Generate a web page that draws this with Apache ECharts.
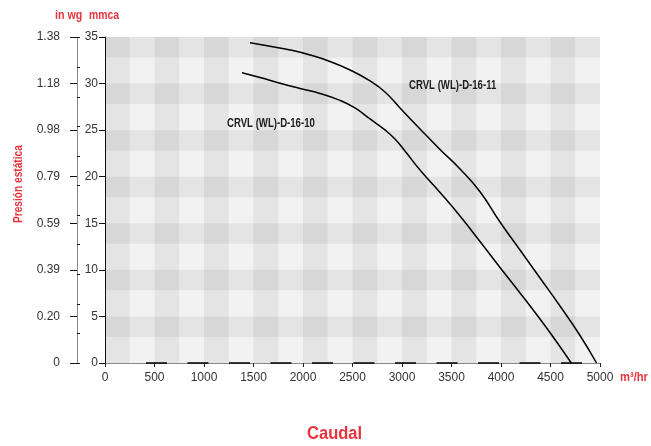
<!DOCTYPE html>
<html>
<head>
<meta charset="utf-8">
<script src="https://cdn.jsdelivr.net/npm/echarts@6/dist/echarts.min.js"></script>
<style>html,body{margin:0;padding:0;background:#fff}#c{width:651px;height:446px}</style>
</head>
<body>
<div id="c"></div>
<script>
// ---- data ----
var xTicks = [0, 500, 1000, 1500, 2000, 2500, 3000, 3500, 4000, 4500, 5000];
var mmcaTicks = [0, 5, 10, 15, 20, 25, 30, 35];
var inwgLabels = ['0', '0.20', '0.39', '0.59', '0.79', '0.98', '1.18', '1.38'];
var rowBandStarts = [35, 30, 25, 20, 15, 10, 5];
var rowBandDepth = 2.2;
var zeroDashStart = 414;
var nameD1611 = 'CRVL (WL)-D-16-11';
var nameD1610 = 'CRVL (WL)-D-16-10';
var curveD1611 = [[1465,34.39],[1667,34.0],[1869,33.61],[2071,33.07],[2273,32.37],[2475,31.46],[2677,30.28],[2828,29.1],[2980,27.38],[3182,25.13],[3384,22.93],[3586,20.83],[3788,18.39],[3990,15.14],[4192,12.13],[4394,9.13],[4596,6.12],[4798,2.95],[4965,0]];
var curveD1610 = [[1384,31.17],[1566,30.65],[1768,30.03],[1970,29.47],[2172,28.94],[2374,28.19],[2525,27.38],[2677,26.2],[2828,25.02],[2929,24.05],[3030,22.76],[3182,20.72],[3384,18.31],[3586,15.78],[3788,13.04],[3990,10.25],[4192,7.52],[4394,4.72],[4545,2.52],[4710,0]];

var RED = '#e8333c';
var FONT = '"Liberation Sans", Arial, Helvetica, sans-serif';
var chart = echarts.init(document.getElementById('c'), null, {renderer: 'canvas'});

var bands = rowBandStarts.map(function (s) { return [{yAxis: s}, {yAxis: s - rowBandDepth}]; });

function label(text, x, y, size, scale, color, rot) {
  return {type: 'text', x: x, y: y, scaleX: scale, rotation: rot || 0,
    style: {text: text, font: 'bold ' + size + 'px ' + FONT, fill: color, textVerticalAlign: 'top'}};
}

chart.setOption({
  animation: false,
  backgroundColor: '#fff',
  grid: {left: 105, right: 51, top: 37, bottom: 83, show: true, backgroundColor: '#f2f2f2', borderWidth: 0},
  xAxis: [{
    type: 'value', min: 0, max: 5000, interval: 500, position: 'bottom',
    axisLine: {show: true, onZero: false, lineStyle: {color: '#888', width: 1}},
    axisTick: {show: true, length: 4, lineStyle: {color: '#222'}},
    axisLabel: {fontFamily: FONT, fontSize: 12, color: '#333', margin: 9,
      formatter: function (v) { return xTicks.indexOf(v) >= 0 ? String(v) : ''; }},
    splitLine: {show: false}
  }, {
    type: 'value', min: 0, max: 5000, interval: 250, show: true,
    axisLine: {show: false, onZero: false}, axisTick: {show: false}, axisLabel: {show: false},
    splitLine: {show: false},
    splitArea: {show: true, areaStyle: {color: ['rgba(0,0,0,0.055)', 'rgba(0,0,0,0)']}}
  }],
  yAxis: [{
    type: 'value', min: 0, max: 35, interval: 5, position: 'left',
    axisLine: {show: true, onZero: false, lineStyle: {color: '#111', width: 1}},
    axisTick: {show: true, length: 6, lineStyle: {color: '#111'}},
    axisLabel: {fontFamily: FONT, fontSize: 12, color: '#333', margin: 7},
    splitLine: {show: false}
  }, {
    type: 'value', min: 0, max: 35, interval: 5, position: 'left', offset: 28,
    axisLine: {show: true, onZero: false, lineStyle: {color: '#888', width: 1}},
    axisTick: {show: true, length: 7, lineStyle: {color: '#111'}},
    axisLabel: {fontFamily: FONT, fontSize: 12, color: '#333', margin: 17,
      formatter: function (v) { return inwgLabels[mmcaTicks.indexOf(v)]; }},
    splitLine: {show: false}
  }, {
    type: 'value', min: 0, max: 35 / 25.4, interval: 0.125, position: 'left', offset: 28,
    axisLine: {show: false, onZero: false},
    axisTick: {show: true, inside: true, length: 3, lineStyle: {color: '#111'}},
    axisLabel: {show: false},
    splitLine: {show: false}
  }],
  series: [{
    type: 'line', name: nameD1611, data: curveD1611, smooth: 0.5, symbol: 'none',
    lineStyle: {color: '#000', width: 1.5},
    markArea: {silent: true, itemStyle: {color: 'rgba(0,0,0,0.055)'}, data: bands},
    markLine: {silent: true, symbol: 'none', label: {show: false},
      lineStyle: {color: '#000', width: 1.5, type: [21, 20.5]},
      data: [[{coord: [zeroDashStart, 0]}, {coord: [5000, 0]}]]}
  }, {
    type: 'line', name: nameD1610, data: curveD1610, smooth: 0.5, symbol: 'none',
    lineStyle: {color: '#000', width: 1.5}
  }],
  graphic: [
    label(nameD1611, 409, 80, 12, 0.8, '#222'),
    label(nameD1610, 227, 118, 12, 0.8, '#222'),
    label('in wg', 55, 9, 13, 0.82, RED),
    label('mmca', 89, 9, 13, 0.8, RED),
    label('m³/hr', 620, 371, 13, 0.86, RED),
    label('Caudal', 307, 424, 19, 0.87, RED),
    label('Presión estática', 12, 223, 13, 0.78, RED, Math.PI / 2)
  ]
});
</script>
</body>
</html>
